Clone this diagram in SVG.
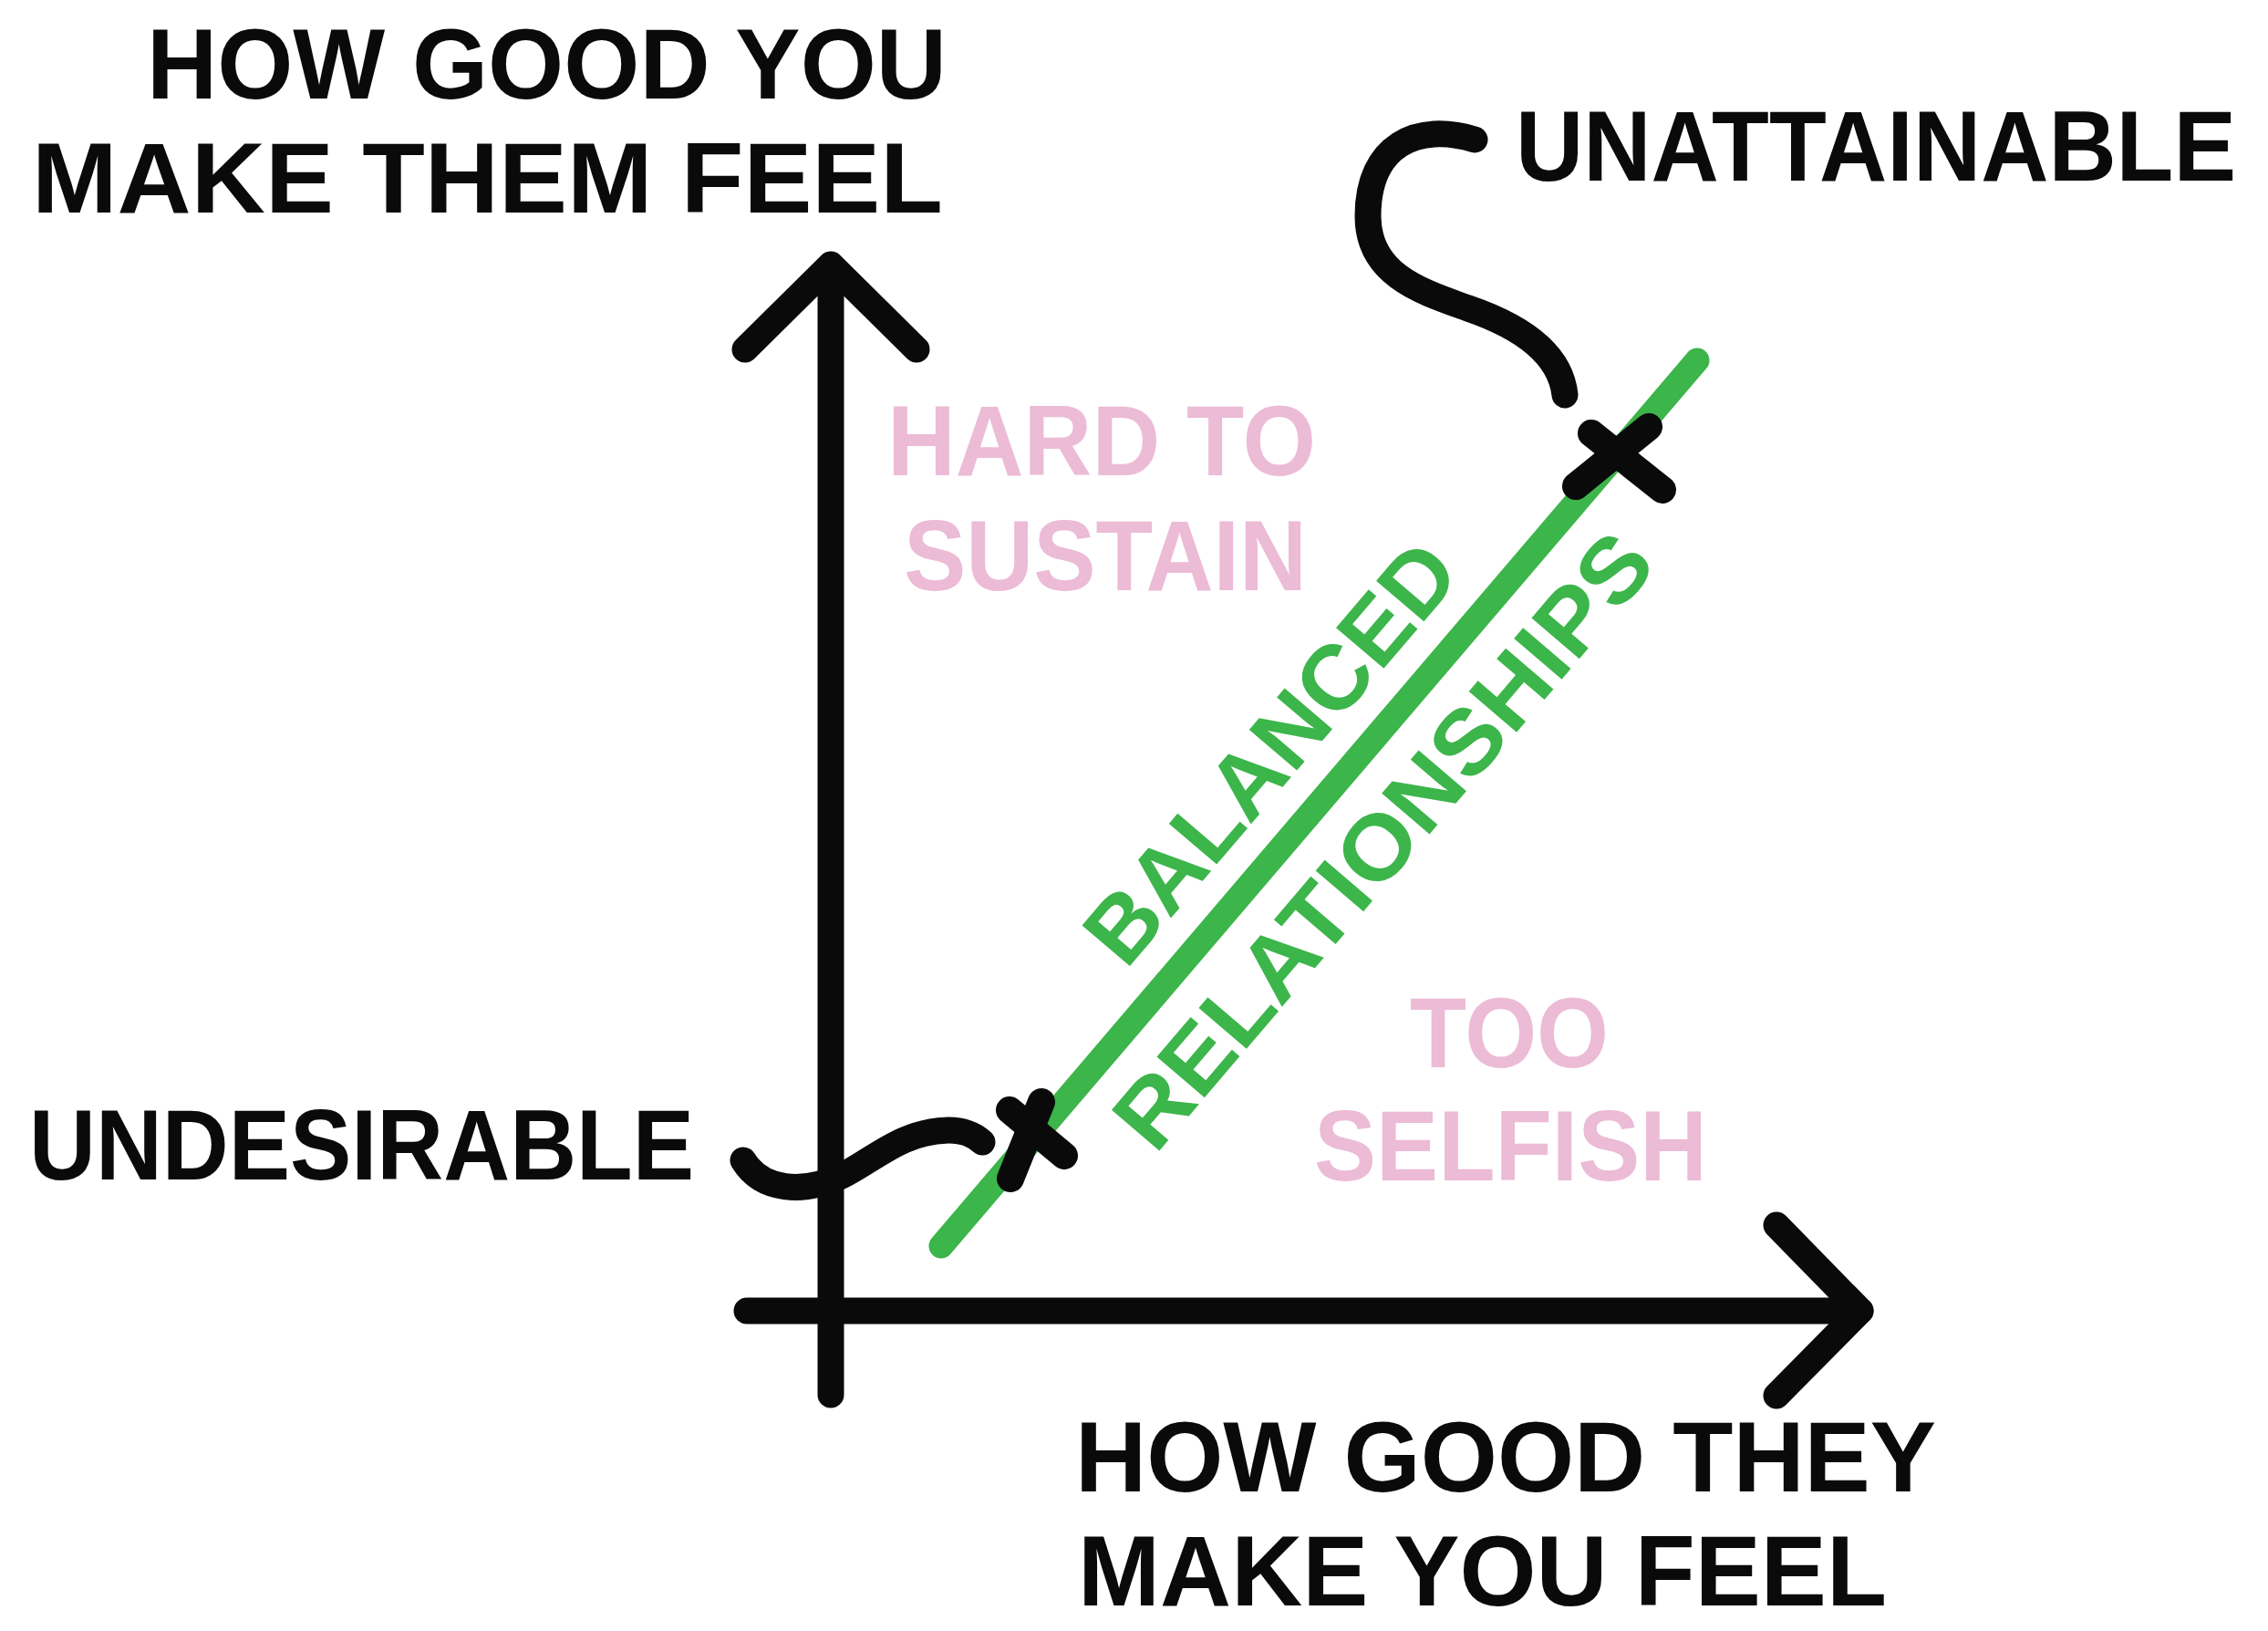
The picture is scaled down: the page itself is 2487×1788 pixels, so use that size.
<svg xmlns="http://www.w3.org/2000/svg" width="2487" height="1788" viewBox="0 0 2487 1788">
<style>
  .t { font-family: "Liberation Sans", Arial, sans-serif; font-weight: 700; font-size: 110px; }
  .blk { fill: #0a0a0b; }
  .pink { fill: #ecbbd6; }
  .grn { fill: #3cb54a; font-size: 100px; }
  .ax { fill: none; stroke: #0a0a0b; stroke-width: 29; stroke-linecap: round; stroke-linejoin: round; }
  .cur { fill: none; stroke: #0a0a0b; stroke-width: 29; stroke-linecap: round; }
  .gl { fill: none; stroke: #3cb54a; stroke-width: 27; stroke-linecap: round; }
  .mk { fill: none; stroke: #0a0a0b; stroke-width: 30; stroke-linecap: round; }
</style>
<rect width="2487" height="1788" fill="#ffffff"/>

<g id="y-axis">
  <path class="ax" d="M911,1529 L911,292"/>
  <path class="ax" d="M817,383 L911,290 L1005,383"/>
</g>
<g id="x-axis">
  <path class="ax" d="M819,1437 L2040,1437"/>
  <path class="ax" d="M1948,1343 L2040,1437 L1948,1530"/>
</g>

<g id="balanced-line">
  <path class="gl" d="M1032,1366 L1861,395"/>
  <g transform="translate(1032,1366) rotate(-49.5)">
    <text class="t grn" x="361" y="-42" textLength="570" lengthAdjust="spacingAndGlyphs">BALANCED</text>
    <text class="t grn" x="228" y="114" textLength="850" lengthAdjust="spacingAndGlyphs">RELATIONSHIPS</text>
  </g>
</g>

<g id="marker-low">
  <path class="mk" d="M1107,1217 L1167,1267"/>
  <path class="mk" d="M1142,1208 L1108,1292"/>
</g>
<g id="marker-high">
  <path class="mk" d="M1745,475 L1823,537"/>
  <path class="mk" d="M1808,468 L1728,533"/>
</g>

<g id="label-y">
  <text class="t blk" x="161" y="108" textLength="877" lengthAdjust="spacingAndGlyphs">HOW GOOD YOU</text>
  <text class="t blk" x="35" y="233" textLength="999" lengthAdjust="spacingAndGlyphs">MAKE THEM FEEL</text>
</g>
<g id="label-x">
  <text class="t blk" x="1179" y="1635" textLength="944" lengthAdjust="spacingAndGlyphs">HOW GOOD THEY</text>
  <text class="t blk" x="1182" y="1760" textLength="887" lengthAdjust="spacingAndGlyphs">MAKE YOU FEEL</text>
</g>
<g id="label-unattainable">
  <text class="t blk" transform="translate(1662,198) scale(1,1.1)" x="0" y="0" style="font-size:100px" textLength="790" lengthAdjust="spacingAndGlyphs">UNATTAINABLE</text>
</g>
<g id="label-undesirable">
  <text class="t blk" x="32" y="1293" textLength="729" lengthAdjust="spacingAndGlyphs">UNDESIRABLE</text>
</g>
<g id="label-hard">
  <text class="t pink" x="973" y="521" textLength="470" lengthAdjust="spacingAndGlyphs">HARD TO</text>
  <text class="t pink" x="991" y="647" textLength="442" lengthAdjust="spacingAndGlyphs">SUSTAIN</text>
</g>
<g id="label-selfish">
  <text class="t pink" x="1546" y="1170" textLength="218" lengthAdjust="spacingAndGlyphs">TOO</text>
  <text class="t pink" x="1441" y="1294" textLength="431" lengthAdjust="spacingAndGlyphs">SELFISH</text>
</g>

<g id="connectors">
  <path class="cur" d="M815,1272 C835,1305 880,1310 925,1288 C960,1270 990,1240 1040,1239 C1058,1239 1068,1244 1077,1252"/>
  <path class="cur" d="M1617,153 C1555,134 1500,158 1500,237 C1500,302 1560,320 1610,338 C1680,362 1712,395 1716,433"/>
</g>
</svg>
